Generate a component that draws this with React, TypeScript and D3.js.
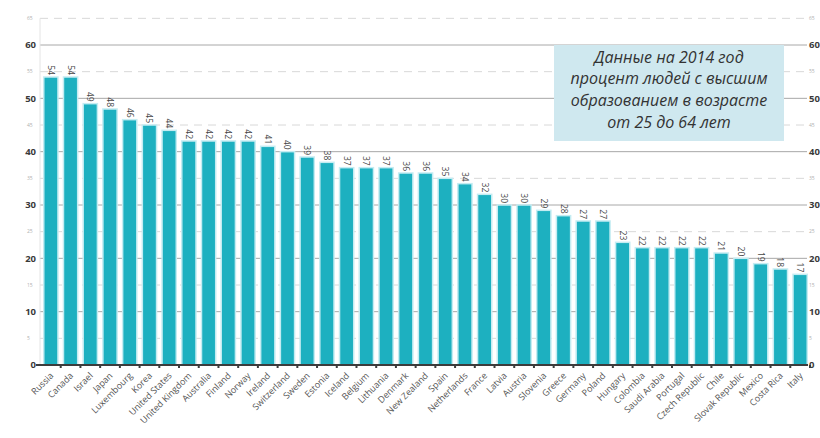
import React from "react";
import * as d3 from "d3";

const countries: string[] = [
  "Russia", "Canada", "Israel", "Japan", "Luxembourg", "Korea", "United States",
  "United Kingdom", "Australia", "Finland", "Norway", "Ireland", "Switzerland",
  "Sweden", "Estonia", "Iceland", "Belgium", "Lithuania", "Denmark", "New Zealand",
  "Spain", "Netherlands", "France", "Latvia", "Austria", "Slovenia", "Greece",
  "Germany", "Poland", "Hungary", "Colombia", "Saudi Arabia", "Portugal",
  "Czech Republic", "Chile", "Slovak Republic", "Mexico", "Costa Rica", "Italy",
];

const shares: number[] = [
  54, 54, 49, 48, 46, 45, 44, 42, 42, 42, 42, 41, 40, 39, 38, 37, 37, 37, 36, 36,
  35, 34, 32, 30, 30, 29, 28, 27, 27, 23, 22, 22, 22, 22, 21, 20, 19, 18, 17,
];

const majorTicks: number[] = [0, 10, 20, 30, 40, 50, 60];
const minorTicks: number[] = [5, 15, 25, 35, 45, 55, 65];

const noteLines: string[] = [
  "Данные на 2014 год",
  "процент людей с высшим",
  "образованием в возрасте",
  "от 25 до 64 лет",
];

const W = 820;
const H = 438;
const left = 41;
const right = 810;
const gridRight = 807;
const baseY = 365;
const topY = 45; // y of 60

const font = "'Open Sans', 'Noto Sans', 'DejaVu Sans', sans-serif";

export default function App() {
  const x = d3
    .scaleBand<string>()
    .domain(countries)
    .range([left, right])
    .paddingInner(0.28)
    .paddingOuter(0.14);

  const y = d3.scaleLinear().domain([0, 60]).range([baseY, topY]);

  const bw = x.bandwidth();
  const step = x.step();

  return (
    <svg
      width={W}
      height={H}
      style={{ position: "absolute", left: 0, top: 0, background: "#fff" }}
      fontFamily={font}
    >
      <rect x={0} y={0} width={W} height={H} fill="#fff" />

      {/* minor gridlines */}
      {minorTicks.map((t) => (
        <g key={"mn" + t}>
          <line
            x1={40}
            x2={gridRight}
            y1={y(t)}
            y2={y(t)}
            stroke="#d8d8d8"
            strokeWidth={1}
            strokeDasharray="8,6"
          />
          <text x={27} y={y(t)} dy="0.35em" fontSize={5} fill="#b0b0b0">
            {t}
          </text>
          <text x={809} y={y(t)} dy="0.35em" fontSize={5} fill="#b0b0b0">
            {t}
          </text>
        </g>
      ))}

      {/* major gridlines */}
      {majorTicks.map((t) => (
        <g key={"mj" + t}>
          {t > 0 && (
            <line
              x1={40}
              x2={gridRight}
              y1={y(t)}
              y2={y(t)}
              stroke="#a8a8a8"
              strokeWidth={1}
            />
          )}
          <text
            x={36}
            y={y(t)}
            dy="0.35em"
            textAnchor="end"
            fontSize={9.5}
            fontWeight="bold"
            fill="#3a3a3a"
          >
            {t}
          </text>
          <text
            x={809}
            y={y(t)}
            dy="0.35em"
            fontSize={9.5}
            fontWeight="bold"
            fill="#3a3a3a"
          >
            {t}
          </text>
        </g>
      ))}

      {/* left axis line */}
      <line x1={40} x2={40} y1={y(65)} y2={baseY} stroke="#e4e4e4" strokeWidth={1} />

      {/* bars */}
      {countries.map((c, i) => (
        <rect
          key={c}
          x={x(c)!}
          y={y(shares[i])}
          width={bw}
          height={baseY - y(shares[i])}
          fill="#1db0c0"
          stroke="#c4ecf2"
          strokeWidth={1.5}
        />
      ))}

      {/* baseline */}
      <line x1={36} x2={808} y1={baseY} y2={baseY} stroke="#3c3c3c" strokeWidth={2} />
      {countries.map((c) => (
        <line
          key={"tk" + c}
          x1={x(c)! + bw + (step - bw) / 2}
          x2={x(c)! + bw + (step - bw) / 2}
          y1={baseY}
          y2={baseY + 3}
          stroke="#3c3c3c"
          strokeWidth={2}
        />
      ))}

      {/* value labels */}
      {countries.map((c, i) => {
        const cx = x(c)! + bw / 2;
        const ty = y(shares[i]) - 2;
        return (
          <text
            key={"v" + c}
            transform={`translate(${cx},${ty}) rotate(90)`}
            textAnchor="end"
            dy="0.35em"
            fontSize={8.5}
            fill="#454545"
          >
            {shares[i]}
          </text>
        );
      })}

      {/* category labels */}
      {countries.map((c) => {
        const cx = x(c)! + bw / 2 + 1;
        return (
          <text
            key={"c" + c}
            transform={`translate(${cx},${baseY + 9}) rotate(-45)`}
            textAnchor="end"
            dy="0.35em"
            fontSize={9}
            fill="#555"
          >
            {c}
          </text>
        );
      })}

      {/* note box */}
      <rect x={554} y={45} width={230} height={96} fill="#cfe8ef" />
      {noteLines.map((line, i) => (
        <text
          key={"n" + i}
          x={669}
          y={57 + i * 21.7}
          dy="0.35em"
          textAnchor="middle"
          fontSize={16}
          fontStyle="italic"
          fill="#333"
        >
          {line}
        </text>
      ))}
    </svg>
  );
}
